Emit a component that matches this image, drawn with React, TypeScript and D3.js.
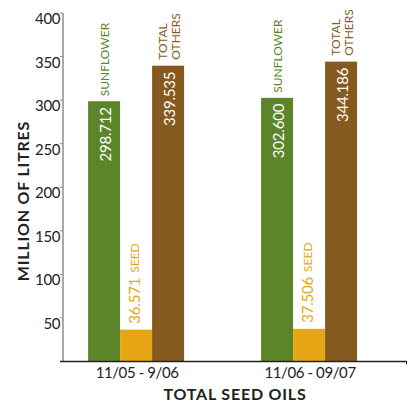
import React from "react";
import * as d3 from "d3";

const groups = ["11/05 - 9/06", "11/06 - 09/07"];
const seriesKeys = ["sunflower", "seed", "others"];
const sunflower = [298.712, 302.6];
const seed = [36.571, 37.506];
const totalOthers = [339.535, 344.186];
const yTickValues = [0, 50, 100, 150, 200, 250, 300, 350, 400];
const yTitle = "MILLION OF LITRES";
const xTitle = "TOTAL SEED OILS";

const W = 409;
const H = 403;
const FONT = "Lato, 'Open Sans', sans-serif";
const GREEN = "#5b8528";
const YELLOW = "#e6a616";
const BROWN = "#86591f";
const AXIS_LEFT = 63;
const AXIS_RIGHT = 407;
const BASE = 361.5;
const TOP = 13;

export default function App() {
  const y = d3.scaleLinear().domain([0, 400]).range([BASE, TOP]);
  const x0 = d3
    .scaleBand<string>()
    .domain(groups)
    .range([49.6, 395.6])
    .paddingInner(0.445)
    .paddingOuter(0.2225);
  const x1 = d3
    .scaleBand<string>()
    .domain(seriesKeys)
    .range([0, x0.bandwidth()])
    .padding(0);
  const fmt = d3.format(".3f");
  const colors: Record<string, string> = {
    sunflower: GREEN,
    seed: YELLOW,
    others: BROWN,
  };
  const valuesFor: Record<string, number[]> = {
    sunflower,
    seed,
    others: totalOthers,
  };

  return (
    <svg
      width={W}
      height={H}
      style={{ position: "absolute", left: 0, top: 0, background: "#fff" }}
      fontFamily={FONT}
    >
      {groups.map((g, gi) => (
        <g key={g} transform={`translate(${x0(g)},0)`}>
          {seriesKeys.map((k) => {
            const v = valuesFor[k][gi];
            const bx = x1(k)!;
            const bw = x1.bandwidth();
            const top = y(v);
            const cx = bx + bw / 2;
            return (
              <g key={k}>
                <rect x={bx} y={top} width={bw} height={BASE - top} fill={colors[k]} />
                {k === "sunflower" && (
                  <>
                    <text
                      transform={`translate(${cx + 0.5},${top + 6}) rotate(-90)`}
                      textAnchor="end"
                      dominantBaseline="central"
                      fill="#fff"
                      fontSize={15}
                      letterSpacing={-0.2}
                    >
                      {fmt(v)}
                    </text>
                    <text
                      transform={`translate(${cx},${top - 5}) rotate(-90)`}
                      textAnchor="start"
                      dominantBaseline="central"
                      fill={GREEN}
                      fontSize={12}
                    >
                      SUNFLOWER
                    </text>
                  </>
                )}
                {k === "others" && (
                  <>
                    <text
                      transform={`translate(${cx + 0.5},${top + 6}) rotate(-90)`}
                      textAnchor="end"
                      dominantBaseline="central"
                      fill="#fff"
                      fontSize={15}
                      letterSpacing={-0.2}
                    >
                      {fmt(v)}
                    </text>
                    <text
                      transform={`translate(${cx - 6},${top - 6}) rotate(-90)`}
                      textAnchor="start"
                      dominantBaseline="central"
                      fill={BROWN}
                      fontSize={12}
                    >
                      TOTAL
                    </text>
                    <text
                      transform={`translate(${cx + 7.5},${top - 6}) rotate(-90)`}
                      textAnchor="start"
                      dominantBaseline="central"
                      fill={BROWN}
                      fontSize={12}
                    >
                      OTHERS
                    </text>
                  </>
                )}
                {k === "seed" && (
                  <text
                    transform={`translate(${cx - 2.5},${top - 6}) rotate(-90)`}
                    textAnchor="start"
                    dominantBaseline="central"
                    fill={YELLOW}
                    fontSize={15}
                  >
                    <tspan letterSpacing={-0.2}>{fmt(v)}</tspan>
                    <tspan fontSize={12} dx={5}>
                      SEED
                    </tspan>
                  </text>
                )}
              </g>
            );
          })}
        </g>
      ))}

      <line x1={AXIS_LEFT} x2={AXIS_LEFT} y1={y(400)} y2={BASE} stroke="#8c8c8c" strokeWidth={1.5} />
      {yTickValues.map((t) => (
        <g key={t}>
          <line x1={AXIS_LEFT - 3} x2={AXIS_LEFT} y1={y(t)} y2={y(t)} stroke="#8c8c8c" strokeWidth={1} />
          {t > 0 && (
            <text
              x={AXIS_LEFT - 3}
              y={y(t) + 5}
              textAnchor="end"
              dominantBaseline="central"
              fontSize={15}
              fill="#222"
              letterSpacing={-0.4}
            >
              {t}
            </text>
          )}
        </g>
      ))}

      <line x1={AXIS_LEFT - 3} x2={AXIS_RIGHT} y1={BASE} y2={BASE} stroke="#222" strokeWidth={1.5} />
      <line x1={AXIS_RIGHT - 0.5} x2={AXIS_RIGHT - 0.5} y1={BASE} y2={BASE + 3} stroke="#222" strokeWidth={1} />
      {groups.map((g) => (
        <text
          key={g}
          x={x0(g)! + x0.bandwidth() / 2 + 1}
          y={372}
          textAnchor="middle"
          dominantBaseline="central"
          fontSize={15}
          fill="#222"
          letterSpacing={-0.4}
        >
          {g}
        </text>
      ))}

      <text
        transform={`translate(22,201) rotate(-90)`}
        textAnchor="middle"
        dominantBaseline="central"
        fontSize={16}
        fontWeight="bold"
        fill="#222"
        letterSpacing={0.8}
      >
        {yTitle}
      </text>
      <text
        x={(AXIS_LEFT + AXIS_RIGHT) / 2}
        y={393}
        textAnchor="middle"
        dominantBaseline="central"
        fontSize={16}
        fontWeight="bold"
        fill="#222"
        letterSpacing={0.8}
      >
        {xTitle}
      </text>
    </svg>
  );
}
